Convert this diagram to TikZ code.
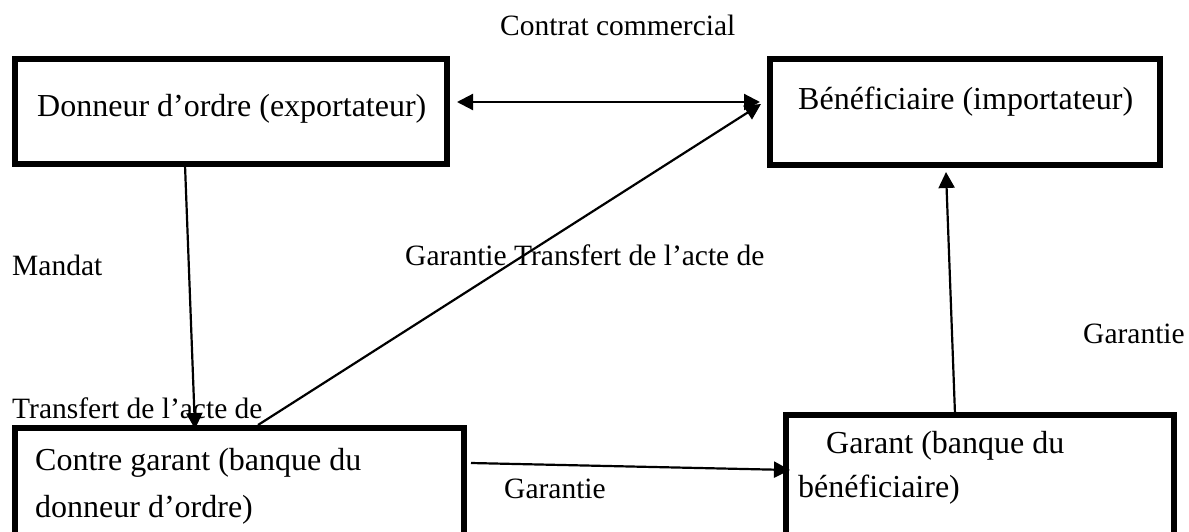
\documentclass[tikz,border=0pt]{standalone}
\usepackage{fontspec}
\setmainfont{Liberation Serif}
\usetikzlibrary{arrows.meta,calc}

\begin{document}
\begin{tikzpicture}[x=1pt,y=-1pt,
  box/.style={draw,line width=6pt,inner sep=0pt,anchor=north west},
  boxtext/.style={anchor=base west,inner sep=0pt,font=\fontsize{32}{38}\selectfont},
  lbl/.style={anchor=base west,inner sep=0pt,font=\fontsize{29.5}{35}\selectfont},
  link/.style={line width=2.2pt,-{Triangle[length=16pt,width=16pt]}},
  both/.style={line width=2.2pt,{Triangle[length=16pt,width=16pt]}-{Triangle[length=16pt,width=16pt]}}]

% page frame
\useasboundingbox (0,0) rectangle (1189,531);
\clip (0,0) rectangle (1189,531);

% parties
\node[box,minimum width=432pt,minimum height=105pt] (A) at (12,56) {};
\node[box,minimum width=390pt,minimum height=106pt] (B) at (767,56) {};
\node[box,minimum width=449pt,minimum height=170pt] (C) at (12,425) {};
\node[box,minimum width=388pt,minimum height=180pt] (D) at (783,412) {};

% texts inside the boxes
\node[boxtext] (tA) at (37,116) {Donneur d’ordre (exportateur)};
\node[boxtext] (tB) at (798,109) {Bénéficiaire (importateur)};
\node[boxtext] (tC1) at (35,470) {Contre garant (banque du};
\node[boxtext] (tC2) at (35,517) {donneur d’ordre)};
\node[boxtext] (tD1) at (826,453) {Garant (banque du};
\node[boxtext] (tD2) at (798,497) {bénéficiaire)};

% connector end points
\coordinate (ab1) at ($(A.north east)+(7,46)$);
\coordinate (ab2) at ($(B.north west)+(-7,46)$);
\coordinate (cb1) at ($(C.north west)+(246,0)$);
\coordinate (cb2) at ($(B.north west)+(-6,48)$);
\coordinate (ac1) at ($(A.south west)+(173,-2)$);
\coordinate (ac2) at ($(C.north west)+(183,4)$);
\coordinate (cd1) at ($(C.north east)+(4,38)$);
\coordinate (cd2) at ($(D.north west)+(7,58)$);
\coordinate (db1) at ($(D.north west)+(172,2)$);
\coordinate (db2) at ($(B.south west)+(179,4)$);

% connectors
\draw[both] (ab1) -- (ab2);
\draw[link] (cb1) -- (cb2);
\draw[link] (ac1) -- (ac2);
\draw[link] (cd1) -- (cd2);
\draw[link] (db1) -- (db2);

% labels
\node[lbl] (l1) at (500,35) {Contrat commercial};
\node[lbl] (l2) at (12,275) {Mandat};
\node[lbl] (l3) at (405,265) {Garantie Transfert de l’acte de};
\node[lbl] (l4) at (1083,343) {Garantie};
\node[lbl] (l5) at (12,418) {Transfert de l’acte de};
\node[lbl] (l6) at (504,498) {Garantie};
\end{tikzpicture}
\end{document}
